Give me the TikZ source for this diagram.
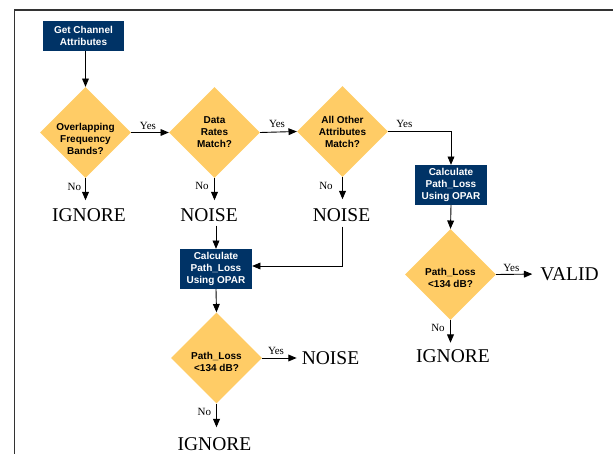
\documentclass[tikz,border=0pt]{standalone}
\usepackage{fontspec}
\setmainfont{Liberation Serif}
\newfontfamily\boxfont{Liberation Sans}
\usetikzlibrary{arrows}
\usetikzlibrary{positioning}
\usetikzlibrary{shapes.geometric}
\definecolor{navyblue}{rgb}{0.,0.2,0.4}
\definecolor{ffcc66}{rgb}{1.,0.8,0.4}
\definecolor{framegray}{rgb}{0.2,0.2,0.2}
\tikzset{
  stepbox/.style={fill=navyblue,text=white,font=\boxfont\bfseries\fontsize{10}{12}\selectfont,align=center,inner sep=0pt},
  decision/.style={diamond,aspect=1,fill=ffcc66,inner sep=0pt,minimum width=91pt,minimum height=91pt},
  decisiontext/.style={font=\boxfont\bfseries\fontsize{10}{12}\selectfont,align=center,inner sep=0pt},
  outcome/.style={font=\fontsize{19.5}{20}\selectfont,inner sep=0pt},
  answer/.style={font=\fontsize{11}{12}\selectfont,inner sep=0pt},
  flow/.style={->,line width=0.9pt}
}

\begin{document}
\begin{tikzpicture}[line cap=butt,line join=miter,>=triangle 45,x=1pt,y=-1pt]
\useasboundingbox (0,0) rectangle (613,454);
\draw [color=framegray,line width=1.3pt] (14.5,454) -- (14.5,10) -- (613,10);
% boxes and decisions
\node[stepbox,minimum width=81pt,minimum height=30pt] (getattr) at (83.5,36) {Get Channel\\Attributes};
\node[decision] (overlap) at (85.5,132.5) {};
\node[decisiontext] (overlapt) at (85.5,138.5) {Overlapping\\Frequency\\Bands?};
\node[decision] (rates) at (214.5,132.5) {};
\node[decisiontext] (ratest) at (214.5,132.5) {Data\\Rates\\Match?};
\node[decision] (others) at (342.5,131.5) {};
\node[decisiontext] (otherst) at (342.5,131.5) {All Other\\Attributes\\Match?};
\node[stepbox,minimum width=72pt,minimum height=40pt] (calcright) at (451,185) {Calculate\\Path\_Loss\\Using OPAR};
\node[decision] (lossright) at (450.5,274.5) {};
\node[decisiontext] (lossrightt) at (450.5,277.5) {Path\_Loss\\<134 dB?};
\node[stepbox,minimum width=72pt,minimum height=40pt] (calcleft) at (216,269) {Calculate\\Path\_Loss\\Using OPAR};
\node[decision] (lossleft) at (216.5,358) {};
\node[decisiontext] (lossleftt) at (216.5,362) {Path\_Loss\\<134 dB?};
% outcomes
\node[outcome] (ignore1) at (89,215) {IGNORE};
\node[outcome] (noise1) at (209,215) {NOISE};
\node[outcome] (noise2) at (341.5,215) {NOISE};
\node[outcome] (valid) at (569.5,274) {VALID};
\node[outcome] (ignore2) at (453,356.5) {IGNORE};
\node[outcome] (noise3) at (330.5,358) {NOISE};
\node[outcome] (ignore3) at (214.5,444) {IGNORE};
% connectors
\draw[flow] (overlap.north |- getattr.south) -- (overlap.north);
\draw[flow] (overlap.east) -- (rates.west);
\draw[flow] (rates.east) -- (others.west);
\draw[flow] (others.east) -| (calcright.north);
\draw[flow] (calcright.south) -- (lossright.north);
\draw[flow,shorten >=8pt] (lossright.east) -- (valid.west);
\draw[flow,shorten >=7pt] (lossright.south) -- (lossright.south |- ignore2.north);
\draw[flow,shorten >=8pt] (overlap.south) -- (overlap.south |- ignore1.north);
\draw[flow,shorten >=8pt] (rates.south) -- (rates.south |- noise1.north);
\draw[flow,shorten >=9pt] (others.south) -- (others.south |- noise2.north);
\draw[flow,shorten <=4pt] (calcleft.north |- noise1.south) -- (calcleft.north);
\draw[flow,shorten <=5pt] (others.south |- noise2.south) |- ([yshift=3pt]calcleft.east);
\draw[flow] (calcleft.south) -- (lossleft.north);
\draw[flow,shorten >=5pt] (lossleft.east) -- (noise3.west);
\draw[flow,shorten >=10pt] (lossleft.south) -- (lossleft.south |- ignore3.north);
% answers
\node[answer] (yes1) at (148,125.5) {Yes};
\node[answer] (yes2) at (277,124) {Yes};
\node[answer] (yes3) at (404.3,124) {Yes};
\node[answer] (yes4) at (511.3,267.5) {Yes};
\node[answer] (yes5) at (276,351) {Yes};
\node[answer] (no1) at (74.3,187) {No};
\node[answer] (no2) at (202,186) {No};
\node[answer] (no3) at (326,186) {No};
\node[answer] (no4) at (438,328) {No};
\node[answer] (no5) at (204.3,412) {No};
\end{tikzpicture}
\end{document}
